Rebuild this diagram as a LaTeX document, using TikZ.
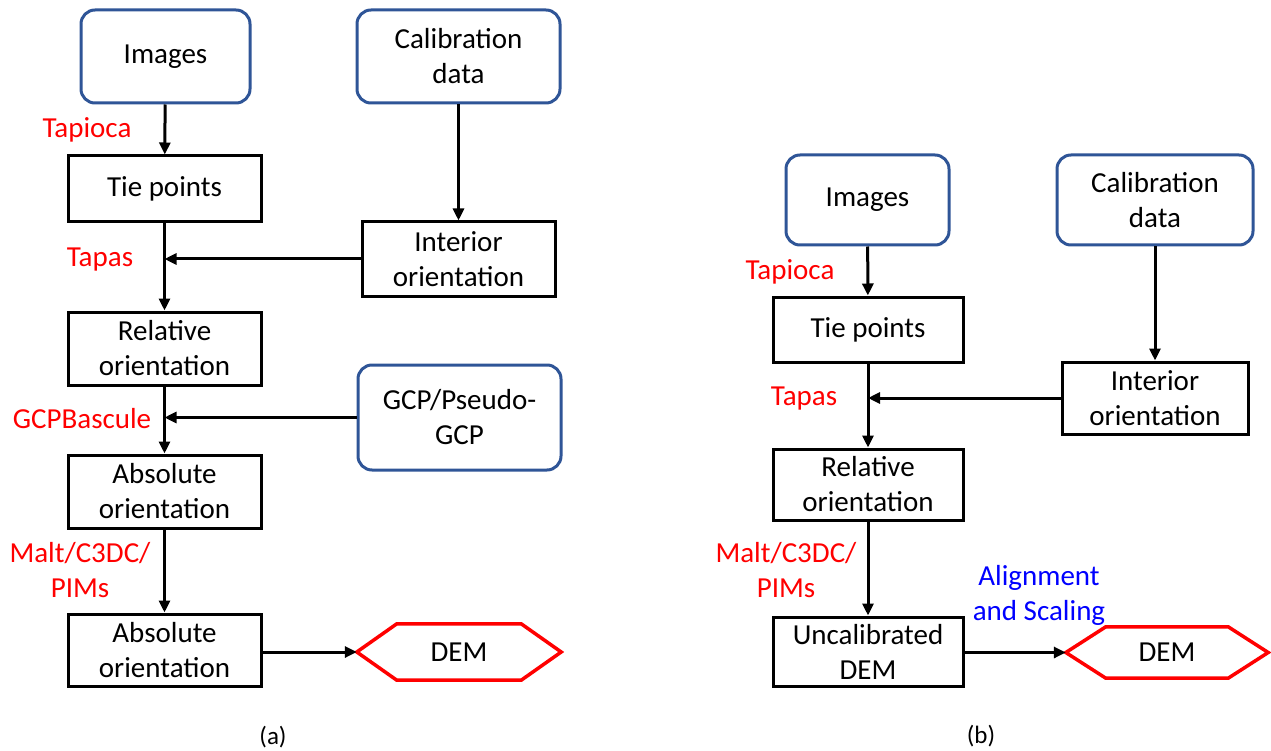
\documentclass[tikz,border=0pt]{standalone}
\usepackage{fontspec}
\setmainfont{Carlito}
\usetikzlibrary{arrows.meta}
\definecolor{boxblue}{RGB}{47,85,151}
\definecolor{lblue}{RGB}{0,0,255}
\tikzset{
  txt/.style={font=\fontsize{29}{35}\selectfont, align=center, inner sep=0pt},
  inbox/.style={txt, draw=boxblue, line width=3pt, rounded corners=14pt},
  stepbox/.style={txt, draw=black, line width=3pt},
  lbl/.style={txt, text=red},
  blbl/.style={txt, text=lblue},
  arr/.style={draw=black, line width=3pt, -{Triangle[length=12pt,width=11pt]}},
  hexnode/.style={txt, minimum width=204pt, minimum height=56pt},
  hexline/.style={draw=red, line width=3.5pt},
  subcap/.style={font=\fontsize{25}{28}\selectfont, inner sep=0pt}
}
\begin{document}
\begin{tikzpicture}[x=1pt,y=-1pt]
\useasboundingbox (0,0) rectangle (1271,751);
% ---------- (a) ----------
\node[inbox, minimum width=169pt, minimum height=93pt] (aimg) at (165.5,56.5) {Images};
\node[inbox, minimum width=203pt, minimum height=93pt] (acal) at (458.5,56.5) {Calibration\\data};
\node[stepbox, minimum width=193pt, minimum height=66pt] (atie) at (164.5,189) {Tie points};
\node[stepbox, minimum width=193pt, minimum height=74pt] (aint) at (458.5,259) {Interior\\orientation};
\node[stepbox, minimum width=193pt, minimum height=73pt] (arel) at (164.5,348.5) {Relative\\orientation};
\node[inbox, minimum width=203pt, minimum height=105pt] (agcp) at (459.5,417.5) {GCP/Pseudo-\\GCP};
\node[stepbox, minimum width=193pt, minimum height=73pt] (aabs1) at (164.5,491.5) {Absolute\\orientation};
\node[stepbox, minimum width=193pt, minimum height=72pt] (aabs2) at (164.5,650) {Absolute\\orientation};
\node[hexnode] (adem) at (459,652) {DEM};
\draw[hexline] (adem.west) -- ([xshift=40pt]adem.north west) -- ([xshift=-40pt]adem.north east) -- (adem.east) -- ([xshift=-40pt]adem.south east) -- ([xshift=40pt]adem.south west) -- cycle;

\coordinate (aj1) at (atie.south |- aint.west);
\coordinate (aj2) at (arel.south |- agcp.west);
\draw[arr] (aimg) -- (atie);
\draw[arr] (acal) -- (aint);
\draw[arr] (atie) -- (arel);
\draw[arr] (aint.west) -- (aj1);
\draw[arr] (arel) -- (aabs1);
\draw[arr] (agcp.west) -- (aj2);
\draw[arr] (aabs1) -- (aabs2);
\draw[arr] (aabs2.east |- adem.west) -- (adem.west);

\node[lbl] (atapioca) at (87,130) {Tapioca};
\node[lbl] (atapas) at (100,260) {Tapas};
\node[lbl] (agcpb) at (82,419) {GCPBascule};
\node[lbl] (amalt) at (80,570) {Malt/C3DC/\\PIMs};
\node[subcap] (capa) at (273,737) {(a)};

% ---------- (b) ----------
\node[inbox, minimum width=163pt, minimum height=90pt] (bimg) at (867.5,200) {Images};
\node[inbox, minimum width=196pt, minimum height=90pt] (bcal) at (1155,200) {Calibration\\data};
\node[stepbox, minimum width=190pt, minimum height=65pt] (btie) at (868,329.5) {Tie points};
\node[stepbox, minimum width=186pt, minimum height=72pt] (bint) at (1155,398) {Interior\\orientation};
\node[stepbox, minimum width=190pt, minimum height=71pt] (brel) at (868,484.5) {Relative\\orientation};
\node[stepbox, minimum width=190pt, minimum height=69pt] (bunc) at (868,651.5) {Uncalibrated\\DEM};
\node[hexnode, minimum width=202pt, minimum height=51pt] (bdem) at (1167,652.5) {DEM};
\draw[hexline] (bdem.west) -- ([xshift=40pt]bdem.north west) -- ([xshift=-40pt]bdem.north east) -- (bdem.east) -- ([xshift=-40pt]bdem.south east) -- ([xshift=40pt]bdem.south west) -- cycle;

\coordinate (bj1) at (btie.south |- bint.west);
\draw[arr] (bimg) -- (btie);
\draw[arr] (bcal) -- (bint);
\draw[arr] (btie) -- (brel);
\draw[arr] (bint.west) -- (bj1);
\draw[arr] (brel) -- (bunc);
\draw[arr] (bunc.east |- bdem.west) -- (bdem.west);

\node[lbl] (btapioca) at (790,272) {Tapioca};
\node[lbl] (btapas) at (804,399) {Tapas};
\node[lbl] (bmalt) at (786,570) {Malt/C3DC/\\PIMs};
\node[blbl] (balign) at (1039,595) {Alignment\\and Scaling};
\node[subcap] (capb) at (981,736) {(b)};
\end{tikzpicture}
\end{document}
